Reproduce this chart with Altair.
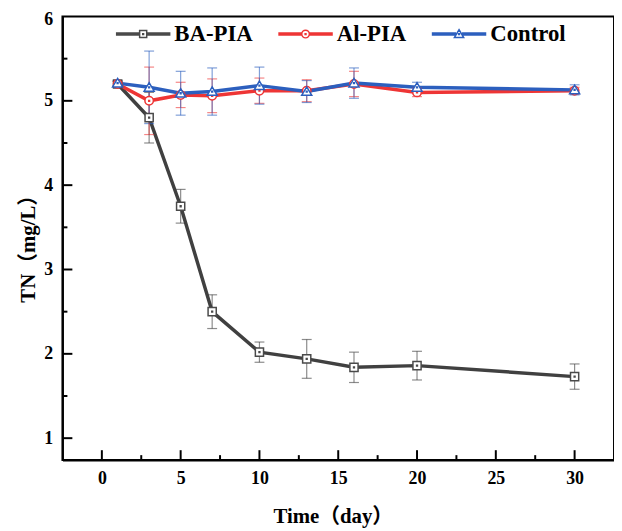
import altair as alt
import pandas as pd

# ---- data ----
days = [1, 3, 5, 7, 10, 13, 16, 20, 30]
series_names = ["BA-PIA", "Al-PIA", "Control"]
series_codes = ["1", "2", "3"]
ba = [5.20, 4.80, 3.75, 2.50, 2.02, 1.94, 1.84, 1.86, 1.73]
ba_err = [0.03, 0.30, 0.20, 0.20, 0.12, 0.23, 0.18, 0.17, 0.15]
al = [5.20, 5.00, 5.07, 5.06, 5.12, 5.12, 5.20, 5.10, 5.12]
al_err = [0.03, 0.40, 0.15, 0.20, 0.15, 0.13, 0.15, 0.05, 0.04]
ctrl = [5.21, 5.16, 5.09, 5.11, 5.18, 5.11, 5.21, 5.16, 5.13]
ctrl_err = [0.03, 0.43, 0.26, 0.28, 0.22, 0.13, 0.18, 0.06, 0.06]

x_major = [0, 5, 10, 15, 20, 25, 30]
x_minor = [2.5, 7.5, 12.5, 17.5, 22.5, 27.5]
y_major = [1, 2, 3, 4, 5]
y_minor = [1.5, 2.5, 3.5, 4.5, 5.5]
y_labels = [1, 2, 3, 4, 5, 6]
x_domain = [-2.5, 32.5]
y_domain = [0.74, 6]

PLOT_W, PLOT_H = 557, 448
MAJOR_PX, MINOR_PX = 10, 5

line_colors = ["#404040", "#ee3535", "#2c5fbe"]
marker_colors = ["#4a4a4a", "#ee3535", "#2c5fbe"]

dot = " M-0.015,-0.015 L0.015,-0.015 L0.015,0.015 L-0.015,0.015 Z"
marker_paths = [
    "M-0.15,-0.15 L0.15,-0.15 L0.15,0.15 L-0.15,0.15 Z" + dot,
    "M0.155,0 A0.155,0.155 0 1,1 -0.155,0 A0.155,0.155 0 1,1 0.155,0 Z" + dot,
    "M0,-0.17 L0.185,0.14 L-0.185,0.14 Z" + dot,
]


def legend_path(marker, gap):
    segs = ""
    for dy in ("-0.036", "0", "0.036"):
        segs += f"M-1,{dy} L-{gap},{dy} M{gap},{dy} L1,{dy} "
    return segs + marker


legend_paths = [
    legend_path("M-0.13,-0.13 L0.13,-0.13 L0.13,0.13 L-0.13,0.13 Z" + dot, "0.14"),
    legend_path("M0.14,0 A0.14,0.14 0 1,1 -0.14,0 A0.14,0.14 0 1,1 0.14,0 Z" + dot, "0.15"),
    legend_path("M0,-0.16 L0.17,0.13 L-0.17,0.13 Z" + dot, "0.11"),
]

# tick lengths converted from pixels to data units of each scale
x_per_px = (x_domain[1] - x_domain[0]) / PLOT_W
y_per_px = (y_domain[1] - y_domain[0]) / PLOT_H

rows = []
for name, code, vals, errs in zip(series_names, series_codes, [ba, al, ctrl], [ba_err, al_err, ctrl_err]):
    for d, v, e in zip(days, vals, errs):
        rows.append({"kind": "data", "series": name, "code": code, "day": d, "value": v,
                     "lo": round(v - e, 3), "hi": round(v + e, 3)})
for vals, px in [(x_major, MAJOR_PX), (x_minor, MINOR_PX)]:
    for t in vals:
        rows.append({"kind": "xtick", "day": t, "day2": t,
                     "lo": y_domain[0], "hi": y_domain[0] + px * y_per_px})
for vals, px in [(y_major, MAJOR_PX), (y_minor, MINOR_PX)]:
    for t in vals:
        rows.append({"kind": "ytick", "day": x_domain[0], "day2": x_domain[0] + px * x_per_px,
                     "lo": t, "hi": t})
df = pd.DataFrame(rows)

FONT = "Liberation Serif, Noto Sans CJK SC"

xscale = alt.Scale(domain=x_domain, nice=False, zero=False)
yscale = alt.Scale(domain=y_domain, nice=False, zero=False)

xaxis = alt.Axis(
    title="Time（day）", values=x_major, format="d",
    ticks=False, tickSize=0, labelPadding=10, labelFlush=False,
    titleX=273, titleY=63, titleBaseline="alphabetic", titleAlign="center",
)
yaxis = alt.Axis(
    title="TN（mg/L）", values=y_labels, format="d",
    ticks=False, tickSize=0, labelPadding=10, labelFlush=True, labelFlushOffset=6,
    titleX=-28, titleY=229, titleBaseline="alphabetic", titleAlign="center", titleAngle=270,
)

X = alt.X("day:Q", scale=xscale, axis=xaxis)
Y = alt.Y("value:Q", scale=yscale, axis=yaxis)

color_scale = alt.Scale(domain=series_names, range=line_colors)

legend = alt.Legend(
    title=None, orient="none", direction="horizontal", padding=0,
    legendX=53, legendY=-11, symbolSize=3025, symbolStrokeWidth=1.5,
    symbolFillColor="white", labelOffset=3, columnPadding=22,
    labelFont=FONT, labelFontSize=23, labelFontWeight="bold", labelColor="black", labelLimit=0,
    labelExpr="datum.label == '1' ? 'BA-PIA' : datum.label == '2' ? 'Al-PIA' : 'Control'",
)

base = alt.Chart(df)
data = base.transform_filter(alt.datum.kind == "data")

# inward axis ticks drawn as short rules, both ends through the scales
ticks = base.transform_filter(alt.datum.kind != "data").mark_rule(
    color="#000000", strokeWidth=2, opacity=1
).encode(
    x=X, x2="day2:Q",
    y=alt.Y("lo:Q", scale=yscale, axis=yaxis), y2="hi:Q",
)

lines = data.mark_line(strokeWidth=3.5).encode(
    x=X, y=Y,
    color=alt.Color("series:N", scale=color_scale, legend=None),
    order="day:Q",
)

errbars = data.mark_errorbar(ticks=True, size=10, thickness=1.2, opacity=0.6).encode(
    x=X,
    y=alt.Y("lo:Q", scale=yscale, axis=yaxis),
    y2="hi:Q",
    color=alt.Color("series:N", scale=color_scale, legend=None),
)

point_layers = []
for name, shape, col in zip(series_names, marker_paths, marker_colors):
    point_layers.append(
        data.transform_filter(alt.datum.series == name).mark_point(
            shape=shape, filled=False, fill="white", stroke=col,
            strokeWidth=1.5, size=3025, opacity=1,
        ).encode(x=X, y=Y)
    )

legend_layer = base.transform_filter(alt.datum.kind == "none").mark_point(
    filled=False, fill="white", strokeWidth=1.5, size=3025, opacity=1
).encode(
    x=X, y=Y,
    stroke=alt.Stroke("code:N", scale=alt.Scale(domain=series_codes, range=marker_colors), legend=legend),
    shape=alt.Shape("code:N", scale=alt.Scale(domain=series_codes, range=legend_paths), legend=legend),
)

chart = alt.layer(
    ticks, lines, errbars, *point_layers, legend_layer,
).properties(
    width=PLOT_W, height=PLOT_H,
    autosize=alt.AutoSizeParams(type="none"),
    padding={"left": 55, "top": 6, "right": 0, "bottom": 66},
).configure_view(
    stroke="black", strokeWidth=2
).configure_axis(
    grid=False, domainColor="black", domainWidth=2,
    labelFont=FONT, labelFontSize=18, labelFontWeight="bold", labelColor="black",
    titleFont=FONT, titleFontSize=21, titleFontWeight="bold", titleColor="black",
)

chart.save("out.html", embed_options={"renderer": "svg", "actions": False})
